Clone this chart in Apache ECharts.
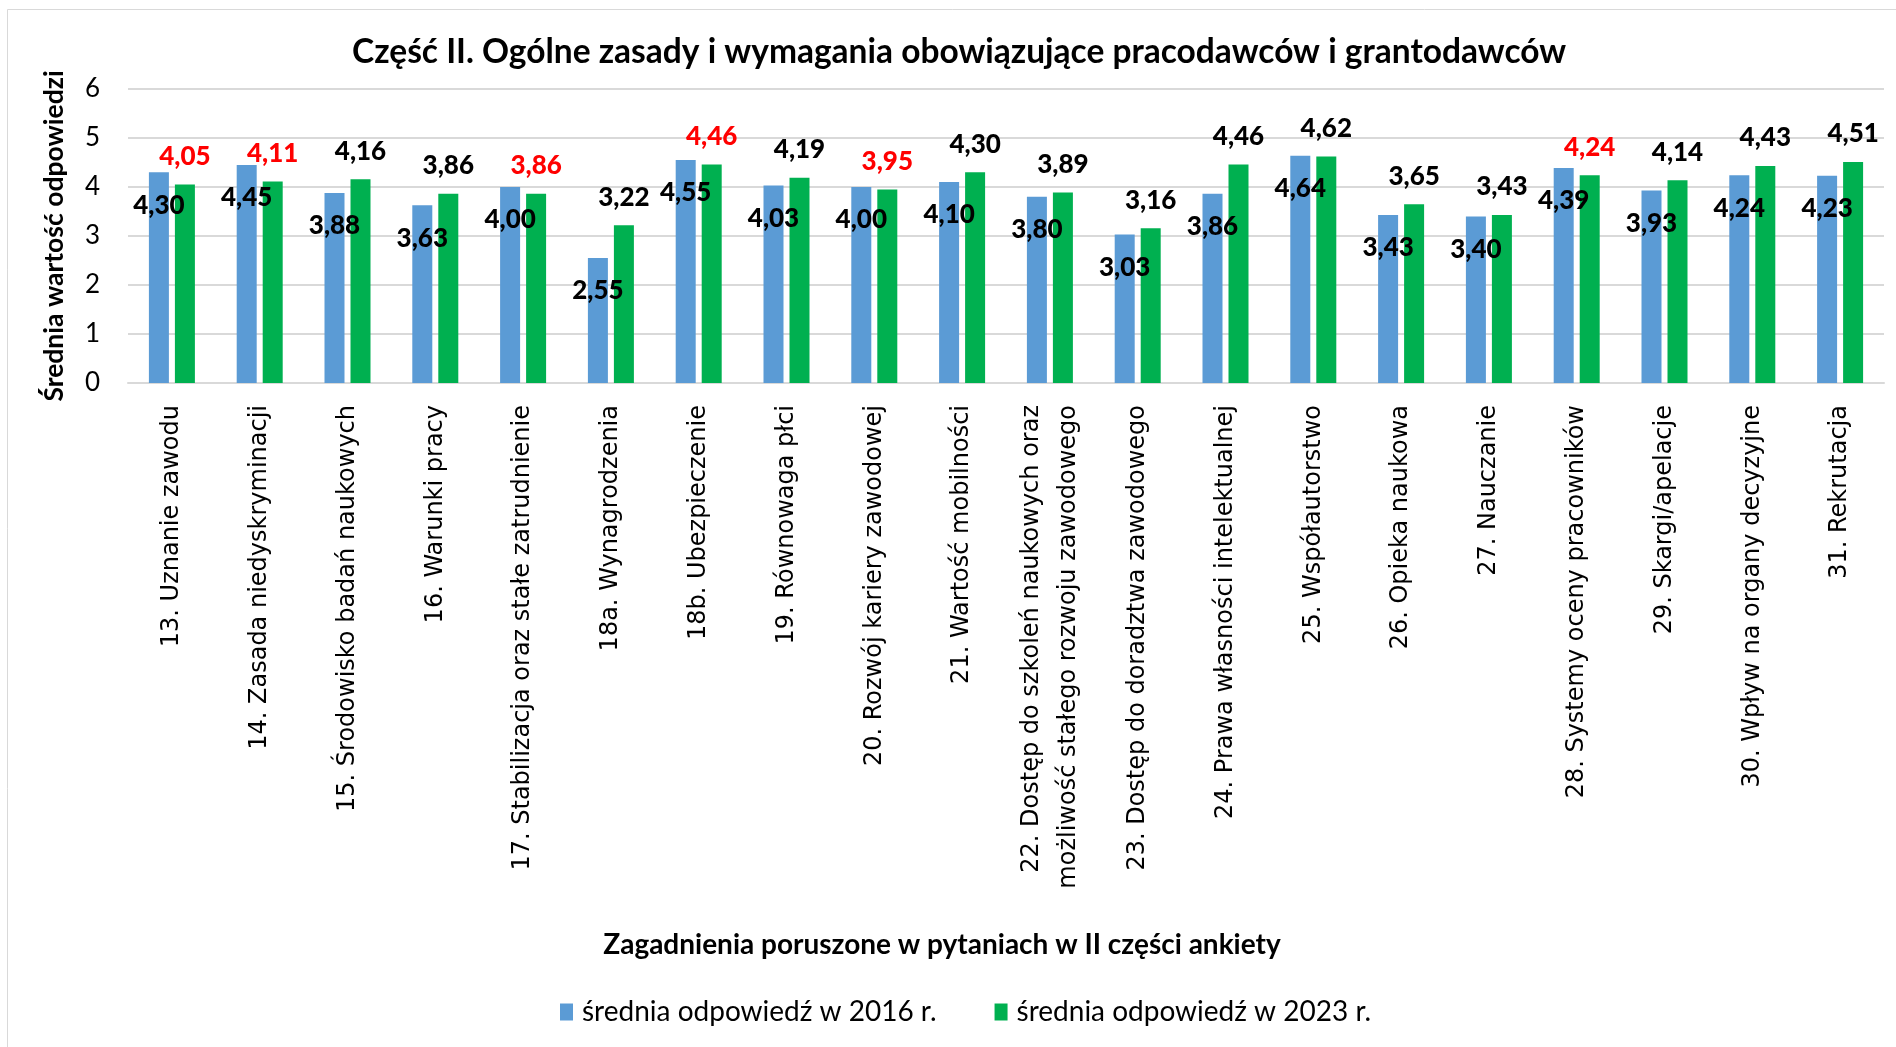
<!DOCTYPE html>
<html>
<head>
<meta charset="utf-8">
<script src="https://cdn.jsdelivr.net/npm/echarts@6/dist/echarts.min.js"></script>
<style>
html,body{margin:0;padding:0;background:#fff;}
#chart{width:1896px;height:1047px;}
</style>
</head>
<body>
<div id="chart"></div>
<script>
const categories = [
  "13. Uznanie zawodu",
  "14. Zasada niedyskryminacji",
  "15. Środowisko badań naukowych",
  "16. Warunki pracy",
  "17. Stabilizacja oraz stałe zatrudnienie",
  "18a. Wynagrodzenia",
  "18b. Ubezpieczenie",
  "19. Równowaga płci",
  "20. Rozwój kariery zawodowej",
  "21. Wartość mobilności",
  "22. Dostęp do szkoleń naukowych oraz\nmożliwość stałego rozwoju zawodowego",
  "23. Dostęp do doradztwa zawodowego",
  "24. Prawa własności intelektualnej",
  "25. Współautorstwo",
  "26. Opieka naukowa",
  "27. Nauczanie",
  "28. Systemy oceny pracowników",
  "29. Skargi/apelacje",
  "30. Wpływ na organy decyzyjne",
  "31. Rekrutacja"
];
const values2016 = [4.30, 4.45, 3.88, 3.63, 4.00, 2.55, 4.55, 4.03, 4.00, 4.10, 3.80, 3.03, 3.86, 4.64, 3.43, 3.40, 4.39, 3.93, 4.24, 4.23];
const values2023 = [4.05, 4.11, 4.16, 3.86, 3.86, 3.22, 4.46, 4.19, 3.95, 4.30, 3.89, 3.16, 4.46, 4.62, 3.65, 3.43, 4.24, 4.14, 4.43, 4.51];
const redLabels2023 = [0, 1, 4, 6, 8, 16];
const seriesNames = ["średnia odpowiedź w 2016 r.", "średnia odpowiedź w 2023 r."];
const titleText = "Część II. Ogólne zasady i wymagania obowiązujące pracodawców i grantodawców";
const yAxisName = "Średnia wartość odpowiedzi";
const xAxisName = "Zagadnienia poruszone w pytaniach w II części ankiety";

const fmt = p => Number(p.value).toFixed(2).replace('.', ',');
const FONT = "Lato, 'Open Sans', sans-serif";

const chart = echarts.init(document.getElementById('chart'));
chart.setOption({
  animation: false,
  backgroundColor: '#fff',
  graphic: [{
    type: 'rect', silent: true,
    shape: {x: 7.5, y: 9.5, width: 1900, height: 1060},
    style: {fill: 'none', stroke: '#d9d9d9', lineWidth: 1}
  }],
  title: {
    text: titleText, left: 352, top: 35, padding: 0,
    textStyle: {fontFamily: FONT, fontWeight: 'bold', fontSize: 33.5, color: '#000'}
  },
  legend: {
    bottom: 21, left: 560, padding: 0, itemWidth: 13, itemHeight: 17, itemGap: 58,
    icon: 'rect',
    textStyle: {fontFamily: FONT, fontSize: 28, color: '#000', padding: [0, 0, 0, 4]}
  },
  grid: {left: 128, right: 12, top: 89, bottom: 664, containLabel: false},
  xAxis: {
    type: 'category', data: categories,
    name: xAxisName, nameLocation: 'middle', nameGap: 548,
    nameTextStyle: {fontFamily: FONT, fontWeight: 'bold', fontSize: 28, color: '#000', padding: [0, 128, 0, 0]},
    axisLine: {lineStyle: {color: '#d9d9d9', width: 2}},
    axisTick: {show: false},
    axisLabel: {rotate: 90, margin: 22, interval: 0, fontFamily: "'DejaVu Sans', sans-serif", fontSize: 24, color: '#000', lineHeight: 37}
  },
  yAxis: {
    type: 'value', min: 0, max: 6, interval: 1,
    name: yAxisName, nameLocation: 'middle', nameGap: 60,
    nameTextStyle: {fontFamily: FONT, fontWeight: 'bold', fontSize: 26.5, color: '#000'},
    axisLabel: {fontFamily: FONT, fontSize: 26, color: '#000', margin: 28},
    axisLine: {show: false}, axisTick: {show: false},
    splitLine: {lineStyle: {color: '#d9d9d9', width: 2}}
  },
  series: [
    {
      name: seriesNames[0], type: 'bar', data: values2016,
      barWidth: 20, barGap: '30%',
      itemStyle: {color: '#5B9BD5'},
      label: {show: true, position: 'insideTop', distance: 20, formatter: fmt,
        fontFamily: FONT, fontWeight: 900, fontSize: 26, color: '#000'}
    },
    {
      name: seriesNames[1], type: 'bar', barWidth: 20,
      data: values2023.map((v, i) => ({value: v, label: {color: redLabels2023.includes(i) ? '#FF0000' : '#000'}})),
      itemStyle: {color: '#00B050'},
      label: {show: true, position: 'top', distance: 15, formatter: fmt,
        fontFamily: FONT, fontWeight: 900, fontSize: 26, color: '#000'}
    }
  ]
});
</script>
</body>
</html>
